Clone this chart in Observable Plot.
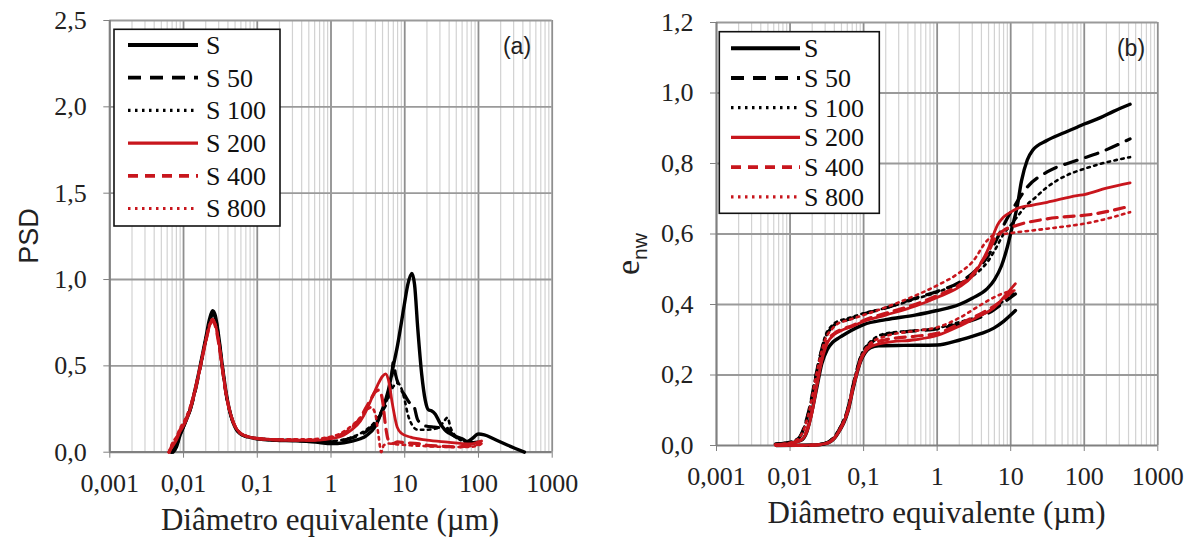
<!DOCTYPE html>
<html>
<head>
<meta charset="utf-8">
<script src="https://cdn.jsdelivr.net/npm/d3@7"></script>
<script src="https://cdn.jsdelivr.net/npm/@observablehq/plot@0.6"></script>
<style>
  html, body { margin: 0; padding: 0; background: #fff; }
  #wrap { position: relative; width: 1198px; height: 545px; overflow: hidden; }
  #wrap svg { position: absolute; top: 0; }
  #wrap svg text, #wrap svg tspan { font-family: "Liberation Serif", "Times New Roman", Tinos, "Noto Serif", FreeSerif, "Nimbus Roman", "Nimbus Roman No9 L", Times, "DejaVu Serif", serif !important; }
  #wrap svg text.sans, #wrap svg tspan.sans { font-family: "Liberation Sans", Arial, "DejaVu Sans", sans-serif !important; }
  [aria-label$="axis tick"] { stroke: #808080; }
</style>
</head>
<body>
<div id="wrap"></div>
<script>
// ---------- data ----------
const seriesNames = ["S", "S 50", "S 100", "S 200", "S 400", "S 800"];
const xTicks = [0.001, 0.01, 0.1, 1, 10, 100, 1000];
const xTickLabels = ["0,001", "0,01", "0,1", "1", "10", "100", "1000"];
const yTicksA = [0, 0.5, 1, 1.5, 2, 2.5];
const yTicksB = [0, 0.2, 0.4, 0.6, 0.8, 1.0, 1.2];
const xTitle = "Diâmetro equivalente (µm)";

// Panel (a): PSD  [diameter µm, PSD]
const psdS = [[0.0072,0],[0.008,0.03],[0.009,0.1],[0.0105,0.17],[0.0124,0.25],[0.0145,0.37],[0.017,0.51],[0.02,0.66],[0.0225,0.77],[0.0248,0.82],[0.027,0.79],[0.03,0.67],[0.0334,0.51],[0.038,0.34],[0.044,0.21],[0.05,0.145],[0.059,0.107],[0.075,0.088],[0.1,0.078],[0.15,0.07],[0.2,0.068],[0.3,0.066],[0.5,0.062],[0.7,0.056],[1,0.05],[1.5,0.055],[2,0.065],[2.5,0.078],[3,0.095],[4,0.15],[5,0.25],[6,0.36],[7,0.5],[8,0.62],[9,0.75],[10,0.87],[11,0.97],[12.5,1.035],[13.6,0.97],[15,0.72],[17,0.45],[19,0.3],[21,0.245],[23,0.24],[26,0.22],[30,0.17],[35,0.13],[40,0.11],[50,0.09],[60,0.078],[70,0.062],[80,0.075],[100,0.105],[120,0.1],[160,0.078],[250,0.04],[420,0]];
const psdS50 = [[0.0068,0],[0.008,0.04],[0.009,0.1],[0.0105,0.17],[0.0124,0.25],[0.0145,0.36],[0.017,0.5],[0.02,0.65],[0.0225,0.75],[0.0248,0.8],[0.027,0.78],[0.03,0.66],[0.0334,0.5],[0.038,0.33],[0.044,0.21],[0.05,0.145],[0.059,0.107],[0.075,0.088],[0.1,0.078],[0.2,0.07],[0.5,0.066],[1,0.06],[1.5,0.07],[2,0.085],[3,0.12],[4,0.17],[5,0.24],[6,0.32],[6.6,0.42],[7,0.52],[7.5,0.45],[8.5,0.38],[10,0.33],[12,0.28],[13.2,0.27],[14.9,0.19],[18,0.155],[25,0.145],[37,0.14],[45,0.1],[60,0.07],[80,0.055],[100,0.06]];
const psdS100 = [[0.0068,0],[0.008,0.05],[0.009,0.11],[0.0105,0.18],[0.0124,0.26],[0.0145,0.37],[0.017,0.5],[0.02,0.65],[0.0225,0.75],[0.0248,0.8],[0.027,0.77],[0.03,0.66],[0.0334,0.5],[0.038,0.33],[0.044,0.21],[0.05,0.15],[0.059,0.11],[0.075,0.09],[0.1,0.08],[0.2,0.072],[0.5,0.068],[1,0.065],[2,0.09],[3,0.13],[4,0.18],[5,0.25],[6,0.32],[7,0.38],[8,0.4],[9,0.37],[10,0.3],[11,0.22],[12.5,0.16],[15,0.13],[20,0.13],[28,0.14],[33,0.17],[38,0.2],[42,0.14],[50,0.09],[65,0.06],[80,0.05],[100,0.055]];
const psdS200 = [[0.0063,0],[0.007,0.03],[0.008,0.07],[0.009,0.12],[0.0105,0.17],[0.0124,0.25],[0.0145,0.36],[0.017,0.5],[0.02,0.64],[0.0225,0.73],[0.0246,0.77],[0.027,0.74],[0.03,0.64],[0.0334,0.5],[0.038,0.33],[0.045,0.2],[0.05,0.15],[0.059,0.11],[0.075,0.09],[0.1,0.078],[0.2,0.07],[0.3,0.068],[0.5,0.068],[0.7,0.07],[1,0.078],[1.5,0.1],[1.84,0.125],[2.5,0.18],[3,0.24],[3.62,0.318],[4.3,0.39],[5,0.44],[5.5,0.454],[6,0.42],[6.8,0.28],[7.9,0.145],[9,0.11],[12,0.087],[20,0.07],[38,0.058],[60,0.05],[80,0.048],[100,0.06],[110,0.065]];
const psdS400 = [[0.0064,0],[0.007,0.04],[0.008,0.08],[0.009,0.13],[0.0105,0.18],[0.0124,0.26],[0.0145,0.37],[0.017,0.5],[0.02,0.64],[0.0225,0.73],[0.0246,0.76],[0.027,0.73],[0.03,0.63],[0.0334,0.49],[0.038,0.33],[0.045,0.2],[0.05,0.15],[0.059,0.11],[0.075,0.09],[0.1,0.08],[0.2,0.072],[0.5,0.07],[1,0.085],[1.5,0.11],[2,0.15],[2.5,0.2],[3,0.26],[3.5,0.31],[4,0.35],[4.5,0.36],[5,0.3],[5.5,0.15],[6,0.07],[7,0.05],[8,0.06],[10,0.055],[15,0.05],[20,0.04],[30,0.035],[50,0.03],[70,0.035],[90,0.04],[105,0.055]];
const psdS800 = [[0.0063,0],[0.007,0.05],[0.008,0.09],[0.009,0.14],[0.0105,0.19],[0.0124,0.27],[0.0145,0.38],[0.017,0.51],[0.02,0.65],[0.0225,0.74],[0.0246,0.77],[0.027,0.74],[0.03,0.64],[0.0334,0.5],[0.038,0.33],[0.045,0.2],[0.05,0.15],[0.059,0.11],[0.075,0.09],[0.1,0.08],[0.2,0.075],[0.5,0.075],[1,0.09],[1.5,0.12],[2,0.16],[2.5,0.2],[3,0.24],[3.5,0.26],[4,0.22],[4.4,0.1],[4.8,0],[5.2,0.04],[6,0.05],[8,0.045],[12,0.04],[20,0.035],[40,0.03],[70,0.03],[100,0.04],[110,0.05]];

// Panel (b): e_nw, upper curves  [diameter µm, e_nw]
const upS = [[0.0065,0.004],[0.01,0.007],[0.014,0.014],[0.017,0.04],[0.02,0.1],[0.0234,0.17],[0.027,0.232],[0.032,0.272],[0.038,0.293],[0.045,0.304],[0.05,0.31],[0.06,0.32],[0.1,0.343],[0.2,0.357],[0.5,0.37],[1,0.383],[2,0.4],[3,0.418],[4.8,0.445],[6,0.47],[7.5,0.51],[9,0.563],[10.5,0.62],[12.2,0.676],[14,0.75],[16.8,0.81],[20,0.838],[31,0.865],[50,0.885],[80,0.903],[100,0.912],[166,0.93],[250,0.948],[420,0.968]];
const upS50 = [[0.0063,0.004],[0.01,0.01],[0.013,0.02],[0.016,0.06],[0.019,0.12],[0.022,0.19],[0.026,0.26],[0.03,0.305],[0.037,0.335],[0.044,0.348],[0.06,0.357],[0.1,0.373],[0.2,0.39],[0.5,0.418],[1,0.437],[2,0.463],[3,0.488],[5,0.54],[7,0.6],[9,0.645],[11,0.676],[13,0.7],[16.8,0.733],[31.3,0.776],[80,0.809],[166,0.832],[420,0.87]];
const upS100 = [[0.0063,0.004],[0.01,0.01],[0.013,0.02],[0.016,0.06],[0.019,0.12],[0.022,0.19],[0.026,0.26],[0.03,0.31],[0.037,0.34],[0.044,0.352],[0.06,0.36],[0.1,0.375],[0.2,0.39],[0.5,0.415],[1,0.435],[2,0.46],[3,0.48],[5,0.525],[6.5,0.565],[8,0.6],[10,0.625],[12.2,0.648],[16,0.68],[20.7,0.7],[30,0.73],[57,0.766],[100,0.785],[166,0.799],[420,0.818]];
const upS200 = [[0.0063,0.002],[0.01,0.006],[0.014,0.015],[0.017,0.04],[0.02,0.095],[0.0234,0.175],[0.027,0.24],[0.032,0.29],[0.04,0.315],[0.0485,0.325],[0.07,0.338],[0.1,0.352],[0.2,0.37],[0.5,0.395],[1,0.42],[2,0.45],[3,0.48],[4,0.52],[5,0.56],[6,0.605],[6.6,0.625],[8,0.648],[10,0.662],[12.2,0.672],[20,0.682],[31.3,0.69],[80,0.709],[100,0.712],[200,0.73],[420,0.745]];
const upS400 = [[0.0063,0.002],[0.01,0.006],[0.014,0.016],[0.017,0.045],[0.02,0.1],[0.0234,0.18],[0.027,0.245],[0.032,0.295],[0.04,0.318],[0.0485,0.328],[0.07,0.34],[0.1,0.355],[0.2,0.375],[0.5,0.4],[1,0.425],[2,0.455],[3,0.485],[4,0.52],[5,0.55],[6,0.585],[8,0.61],[12.2,0.625],[31.3,0.643],[138,0.657],[420,0.679]];
const upS800 = [[0.0063,0.002],[0.01,0.008],[0.013,0.02],[0.016,0.055],[0.019,0.115],[0.022,0.185],[0.026,0.255],[0.03,0.3],[0.037,0.33],[0.044,0.345],[0.06,0.355],[0.1,0.37],[0.2,0.392],[0.5,0.425],[1,0.454],[2,0.49],[3,0.52],[4.8,0.582],[6,0.598],[8,0.6],[12.2,0.605],[31.3,0.615],[138,0.635],[420,0.662]];

// Panel (b): e_nw, lower curves
const lowS = [[0.0065,0],[0.02,0.001],[0.03,0.005],[0.04,0.02],[0.048,0.045],[0.054,0.065],[0.062,0.1],[0.07,0.15],[0.08,0.2],[0.091,0.238],[0.105,0.263],[0.124,0.277],[0.16,0.283],[0.35,0.284],[1,0.285],[2.08,0.3],[4,0.318],[5.9,0.333],[8,0.352],[10,0.37],[11.6,0.383]];
const lowS50 = [[0.0065,0],[0.02,0.001],[0.03,0.006],[0.04,0.025],[0.048,0.05],[0.054,0.072],[0.062,0.11],[0.07,0.16],[0.08,0.21],[0.091,0.25],[0.105,0.275],[0.124,0.29],[0.2,0.315],[0.5,0.325],[1,0.331],[2,0.345],[4,0.365],[5.9,0.385],[8,0.405],[11.6,0.43]];
const lowS100 = [[0.0065,0],[0.02,0.001],[0.03,0.007],[0.04,0.026],[0.048,0.052],[0.054,0.075],[0.062,0.112],[0.07,0.162],[0.08,0.212],[0.091,0.252],[0.105,0.278],[0.124,0.295],[0.2,0.318],[0.5,0.326],[1,0.333],[2,0.35],[4,0.37],[5.9,0.39],[8,0.41],[11.6,0.435]];
const lowS200 = [[0.0065,0],[0.02,0.001],[0.03,0.005],[0.04,0.02],[0.048,0.045],[0.054,0.066],[0.062,0.102],[0.07,0.152],[0.08,0.2],[0.091,0.24],[0.105,0.265],[0.124,0.28],[0.2,0.292],[0.5,0.3],[1,0.312],[2.08,0.34],[4,0.37],[5.9,0.39],[8,0.42],[11.6,0.459]];
const lowS400 = [[0.0065,0],[0.02,0.001],[0.03,0.005],[0.04,0.021],[0.048,0.047],[0.054,0.068],[0.062,0.104],[0.07,0.154],[0.08,0.203],[0.091,0.243],[0.105,0.268],[0.124,0.285],[0.2,0.3],[0.5,0.31],[1,0.318],[2,0.345],[4,0.375],[5.9,0.395],[8,0.415],[11.6,0.445]];
const lowS800 = [[0.0065,0],[0.02,0.001],[0.03,0.006],[0.04,0.022],[0.048,0.048],[0.054,0.07],[0.062,0.106],[0.07,0.156],[0.08,0.205],[0.091,0.245],[0.105,0.272],[0.124,0.29],[0.2,0.31],[0.5,0.325],[1,0.335],[2.08,0.364],[4,0.4],[5.9,0.42],[8,0.432],[11.6,0.44]];

// ---------- styles ----------
const RED = "#c8161d";
const lineStyles = [
  {stroke: "#000", width: 3.4, dash: undefined},
  {stroke: "#000", width: 3.2, dash: "13,9"},
  {stroke: "#000", width: 2.6, dash: "2.5,4.5"},
  {stroke: RED, width: 2.8, dash: undefined},
  {stroke: RED, width: 3.2, dash: "10,7"},
  {stroke: RED, width: 2.6, dash: "2.5,4.5"}
];
const SERIF_STACK = "'Liberation Serif', 'Times New Roman', Tinos, 'Noto Serif', FreeSerif, Times, 'DejaVu Serif', serif";

const minorX = [];
for (let e = -3; e < 3; e++) for (let m = 2; m < 10; m++) minorX.push(m * Math.pow(10, e));

function fmtX(d) {
  const i = xTicks.findIndex(t => Math.abs(Math.log10(t) - Math.log10(d)) < 1e-6);
  return i >= 0 ? xTickLabels[i] : "";
}
const fmtY = d => d.toFixed(1).replace(".", ",");

function makePanel({left, marginLeft, marginRight, marginTop, marginBottom, yDomain, yTicks, groups}) {
  const marks = [
    Plot.ruleX(minorX, {stroke: "#d2d2d2", strokeWidth: 1.2}),
    Plot.ruleX(xTicks.slice(1), {stroke: "#8f8f8f", strokeWidth: 1.8}),
    Plot.ruleY(yTicks.slice(1), {stroke: "#9a9a9a", strokeWidth: 1.8}),
    Plot.ruleX([xTicks[0]], {stroke: "#808080", strokeWidth: 2.2}),
    Plot.ruleY([0], {stroke: "#808080", strokeWidth: 2.2})
  ];
  seriesNames.forEach((name, i) => {
    const st = lineStyles[i];
    const rows = groups[i].flatMap((arr, p) => arr.map(([d, v]) => ({d, v, p, name})));
    marks.push(Plot.line(rows, {
      x: "d", y: "v", z: "p",
      stroke: st.stroke, strokeWidth: st.width, strokeDasharray: st.dash,
      curve: "monotone-x"
    }));
  });
  const svg = Plot.plot({
    width: 599, height: 545,
    marginLeft, marginRight, marginTop, marginBottom,
    x: {type: "log", domain: [0.001, 1000], ticks: xTicks, tickFormat: fmtX, tickSize: 6, tickPadding: 15, label: null},
    y: {domain: yDomain, ticks: yTicks, tickFormat: fmtY, tickSize: 6, tickPadding: 17, label: null},
    style: {fontFamily: SERIF_STACK, fontSize: "26px", color: "#222", background: "#fff", overflow: "visible"},
    marks
  });
  svg.setAttribute("font-family", SERIF_STACK);
  svg.style.left = left + "px";
  return svg;
}

function addLegend(svg, box, lineX0, lineX1, textX, rowY0, rowDy) {
  const g = d3.select(svg).append("g");
  g.append("rect").attr("x", box[0]).attr("y", box[1]).attr("width", box[2] - box[0]).attr("height", box[3] - box[1])
    .attr("fill", "#fff").attr("stroke", "#111").attr("stroke-width", 1.6);
  seriesNames.forEach((name, i) => {
    const st = lineStyles[i];
    const y = rowY0 + i * rowDy;
    g.append("line").attr("x1", lineX0).attr("x2", lineX1).attr("y1", y).attr("y2", y)
      .attr("stroke", st.stroke).attr("stroke-width", st.width + 0.6)
      .attr("stroke-dasharray", st.dash || null);
    g.append("text").attr("x", textX).attr("y", y).attr("dy", "0.34em")
      .attr("text-anchor", "start").attr("font-size", 26).attr("fill", "#111").text(name);
  });
}

const wrap = document.getElementById("wrap");

// Panel (a)
const svgA = makePanel({
  left: 0, marginLeft: 109.3, marginRight: 47.3, marginTop: 20, marginBottom: 93.3,
  yDomain: [0, 2.5], yTicks: yTicksA,
  groups: [[psdS], [psdS50], [psdS100], [psdS200], [psdS400], [psdS800]]
});
wrap.appendChild(svgA);
{
  const s = d3.select(svgA);
  s.append("text").attr("x", 330).attr("y", 530).attr("text-anchor", "middle")
    .attr("font-size", 31).attr("fill", "#222").text(xTitle);
  s.append("text").attr("class", "sans").attr("transform", "translate(38,236) rotate(-90)").attr("text-anchor", "middle")
    .attr("font-size", 27).attr("fill", "#222").text("PSD");
  s.append("text").attr("class", "sans").attr("x", 517).attr("y", 54).attr("text-anchor", "middle")
    .attr("font-size", 23).attr("fill", "#222").text("(a)");
  addLegend(svgA, [114, 29.3, 280, 226], 128, 198, 206, 45, 32.7);
}

// Panel (b)
const svgB = makePanel({
  left: 599, marginLeft: 117, marginRight: 40.7, marginTop: 22, marginBottom: 100,
  yDomain: [0, 1.2], yTicks: yTicksB,
  groups: [[upS, lowS], [upS50, lowS50], [upS100, lowS100], [upS200, lowS200], [upS400, lowS400], [upS800, lowS800]]
});
wrap.appendChild(svgB);
{
  const s = d3.select(svgB);
  s.append("text").attr("x", 337.6).attr("y", 523).attr("text-anchor", "middle")
    .attr("font-size", 31).attr("fill", "#222").text(xTitle);
  const lab = s.append("text").attr("transform", "translate(40,254) rotate(-90)").attr("text-anchor", "middle")
    .attr("fill", "#222");
  lab.append("tspan").attr("font-size", 34).text("e");
  lab.append("tspan").attr("class", "sans").attr("font-size", 21).attr("dy", 8).text("nw");
  s.append("text").attr("class", "sans").attr("x", 532).attr("y", 56).attr("text-anchor", "middle")
    .attr("font-size", 23).attr("fill", "#222").text("(b)");
  addLegend(svgB, [120.3, 31.7, 280.3, 213.3], 132, 201, 205, 48.3, 29.7);
}
</script>
</body>
</html>
